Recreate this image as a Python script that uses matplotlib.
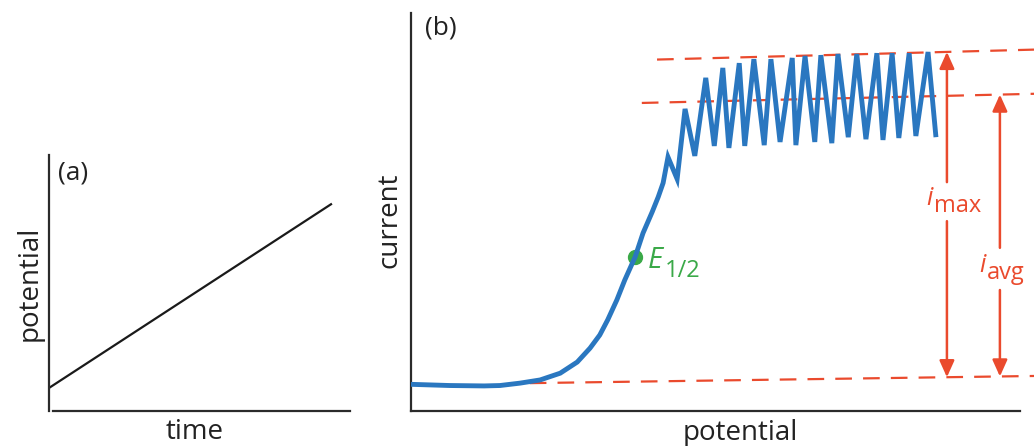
import numpy as np
import matplotlib
matplotlib.use("Agg")
import matplotlib.pyplot as plt

plt.rcParams['font.family'] = ['Open Sans', 'DejaVu Sans']

# ---- panel (a): linear potential ramp ----
ramp_time = [0.0, 9.4]
ramp_potential = [0.9, 8.1]

# ---- panel (b): polarogram (arbitrary units, 0-100) ----
potential = [0.0, 6.4, 12.0, 14.6, 17.9, 21.2, 24.5, 27.3, 29.4, 31.0, 32.3,
             33.8, 35.1, 36.8, 38.1, 39.6, 40.6, 41.4,
             42.2, 43.7, 45.0, 46.6, 48.4, 49.8, 51.2, 52.2,
             53.9, 54.8, 56.3, 58.0, 59.1, 60.6, 62.6, 63.2, 64.7, 66.3, 67.3,
             69.1, 70.1, 71.8, 73.2, 74.7, 76.5, 77.5, 79.0, 80.1, 81.8, 82.9,
             84.9, 86.2]
current = [6.7, 6.4, 6.3, 6.4, 7.0, 7.8, 9.5, 12.3, 15.8, 19.1, 22.9,
           27.9, 32.9, 38.7, 44.7, 50.0, 53.8, 57.3,
           63.8, 58.3, 75.9, 64.1, 83.7, 66.6, 86.2, 66.1,
           87.4, 66.6, 88.4, 66.8, 88.4, 67.6, 88.7, 66.8, 89.2, 67.6, 89.4,
           67.3, 89.7, 68.8, 89.7, 68.3, 89.9, 68.1, 89.9, 68.6, 89.9, 69.1,
           90.2, 68.8]

half_wave_potential = 36.8
half_wave_current = 38.7

# reference lines: residual current, maximum and average limiting current
residual_x = [19.5, 102.3]
residual_y = [7.0, 8.8]
max_x = [40.4, 102.3]
max_y = [88.3, 90.8]
avg_x = [37.9, 102.3]
avg_y = [77.4, 79.7]

imax_at = 88.0
iavg_at = 96.7
imax_gap = (47.7, 57.5)
iavg_gap = (30.4, 41.0)

BLUE = '#2a77c0'
RED = '#ea4a2d'
GREEN = '#3aa948'
AXIS = '#2b2b2b'

W, H = 1034, 446
fig = plt.figure(figsize=(W / 100, H / 100), dpi=100)


def frac_box(left, top, right, bottom):
    return [left / W, 1 - bottom / H, (right - left) / W, (bottom - top) / H]


def style_axes(ax):
    for s in ('top', 'right'):
        ax.spines[s].set_visible(False)
    for s in ('left', 'bottom'):
        ax.spines[s].set_color(AXIS)
        ax.spines[s].set_linewidth(1.6)
    ax.set_xticks([])
    ax.set_yticks([])
    ax.patch.set_alpha(0)


# ---------------- (a) ----------------
axa = fig.add_axes(frac_box(49, 155, 350, 411))
style_axes(axa)
axa.set_xlim(0, 10)
axa.set_ylim(0, 10)
axa.spines['bottom'].set_bounds(0.13, 10)
axa.plot(ramp_time, ramp_potential, color='#1a1a1a', lw=1.6,
         solid_capstyle='butt')
axa.text(0.03, 0.93, '(a)', transform=axa.transAxes, fontsize=19,
         ha='left', va='center', color='#222222')
fig.text(30 / W, 1 - 283 / H, 'potential', rotation=90, fontsize=20,
         ha='center', va='center', color='#222222')
fig.text(195 / W, 1 - 432 / H, 'time', fontsize=20,
         ha='center', va='center', color='#222222')

# ---------------- (b) ----------------
axb = fig.add_axes(frac_box(411, 13, 1034, 411))
style_axes(axb)
axb.set_xlim(0, 623 / 6.09)
axb.set_ylim(0, 100)
axb.spines['bottom'].set_bounds(0, 100)

dash = dict(color=RED, lw=1.6, dashes=(7.5, 5), clip_on=False)
axb.plot(residual_x, residual_y, **dash)
axb.plot(max_x, max_y, **dash)
axb.plot(avg_x, avg_y, **dash)

axb.plot([half_wave_potential], [half_wave_current], 'o', color=GREEN,
         ms=10, zorder=3)
axb.plot(potential, current, color=BLUE, lw=3.5, solid_joinstyle='miter',
         solid_capstyle='butt', zorder=4, clip_on=False)

axb.text(half_wave_potential + 2.0, half_wave_current - 1.0, 'E',
         fontsize=21, style='italic', color=GREEN, ha='left', va='center')
axb.text(half_wave_potential + 4.9, half_wave_current - 3.4, '1/2',
         fontsize=17, color=GREEN, ha='left', va='center')


def double_arrow(x, gap, xs, ys, label_sub):
    lo = np.interp(x, residual_x, residual_y)
    hi = np.interp(x, xs, ys)
    props = dict(arrowstyle='-|>,head_length=1.0,head_width=0.45',
                 color=RED, lw=1.8, shrinkA=0, shrinkB=0, mutation_scale=10)
    axb.annotate('', xy=(x, hi), xytext=(x, gap[1]), arrowprops=props,
                 annotation_clip=False)
    axb.annotate('', xy=(x, lo), xytext=(x, gap[0]), arrowprops=props,
                 annotation_clip=False)
    mid = 0.5 * (gap[0] + gap[1])
    axb.text(x - 2.9, mid + 0.9, 'i', fontsize=18, style='italic',
             color=RED, ha='center', va='center')
    axb.text(x - 2.2, mid - 1.0, label_sub, fontsize=17, color=RED,
             ha='left', va='center')


double_arrow(imax_at, imax_gap, max_x, max_y, 'max')
double_arrow(iavg_at, iavg_gap, avg_x, avg_y, 'avg')

axb.text(0.022, 0.962, '(b)', transform=axb.transAxes, fontsize=19,
         ha='left', va='center', color='#222222')
fig.text(389 / W, 1 - 220 / H, 'current', rotation=90, fontsize=20,
         ha='center', va='center', color='#222222')
fig.text(740 / W, 1 - 433 / H, 'potential', fontsize=20,
         ha='center', va='center', color='#222222')

fig.savefig('out.png', dpi=100)
